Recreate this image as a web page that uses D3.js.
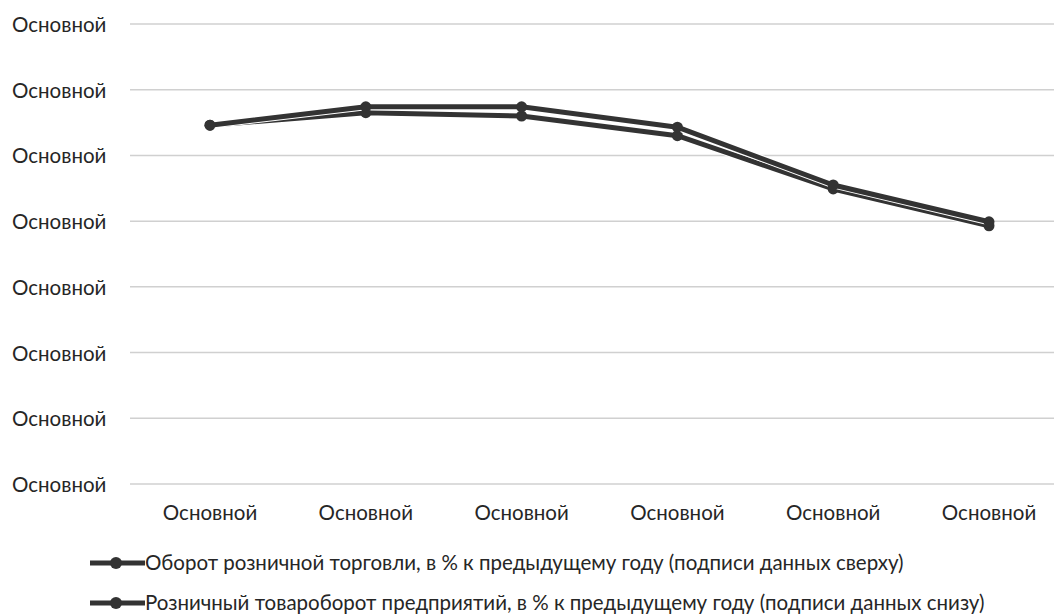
<!DOCTYPE html>
<html>
<head>
<meta charset="utf-8">
<script src="https://cdn.jsdelivr.net/npm/d3@7"></script>
<style>
  body { margin: 0; background: #fff; }
  svg { display: block; font-family: Lato, sans-serif; }
</style>
</head>
<body>
<svg id="chart" width="1054" height="616"></svg>
<script>
var width = 1054,
    height = 616,
    fontSize = 20.5;

// categories and values (axis units are gridline steps)
var categories = ["c1", "c2", "c3", "c4", "c5", "c6"];
var xLabels = ["Основной", "Основной", "Основной", "Основной", "Основной", "Основной"];
var yTicks = [0, 1, 2, 3, 4, 5, 6, 7];
var yLabels = ["Основной", "Основной", "Основной", "Основной", "Основной", "Основной", "Основной", "Основной"];
var series1 = [5.46, 5.74, 5.74, 5.43, 4.55, 3.99];
var series2 = [5.46, 5.65, 5.60, 5.30, 4.49, 3.93];
var seriesNames = [
  "Оборот розничной торговли, в % к предыдущему году (подписи данных сверху)",
  "Розничный товароборот предприятий, в % к предыдущему году (подписи данных снизу)"
];

var svg = d3.select("#chart");

var x = d3.scalePoint()
    .domain(categories)
    .range([210, 989]);

var y = d3.scaleLinear()
    .domain([0, 7])
    .range([484, 24]);

// gridlines
svg.append("g")
  .selectAll("line")
  .data(yTicks)
  .enter()
  .append("line")
  .attr("x1", 130)
  .attr("x2", width)
  .attr("y1", function(d) { return y(d); })
  .attr("y2", function(d) { return y(d); })
  .attr("stroke", "#d0d0d0")
  .attr("stroke-width", 1.5);

// y labels
svg.append("g")
  .selectAll("text")
  .data(yTicks)
  .enter()
  .append("text")
  .attr("x", 12)
  .attr("y", function(d) { return y(d) + 8; })
  .attr("font-size", fontSize)
  .attr("fill", "#262626")
  .text(function(d, i) { return yLabels[i]; });

// x labels
svg.append("g")
  .selectAll("text")
  .data(categories)
  .enter()
  .append("text")
  .attr("x", function(d) { return x(d); })
  .attr("y", 520)
  .attr("text-anchor", "middle")
  .attr("font-size", fontSize)
  .attr("fill", "#262626")
  .text(function(d, i) { return xLabels[i]; });

var line = d3.line()
    .x(function(d, i) { return x(categories[i]); })
    .y(function(d) { return y(d); });

[series2, series1].forEach(function(s) {
  var g = svg.append("g");
  g.append("path")
    .datum(s)
    .attr("d", line)
    .attr("fill", "none")
    .attr("stroke", "#fff")
    .attr("stroke-width", 7);
  g.append("path")
    .datum(s)
    .attr("d", line)
    .attr("fill", "none")
    .attr("stroke", "#333")
    .attr("stroke-width", 5)
    .attr("stroke-linejoin", "round");
  g.selectAll("circle")
    .data(s)
    .enter()
    .append("circle")
    .attr("cx", function(d, i) { return x(categories[i]); })
    .attr("cy", function(d) { return y(d); })
    .attr("r", 5.5)
    .attr("fill", "#333");
});

// legend
var legend = svg.append("g")
  .selectAll("g")
  .data(seriesNames)
  .enter()
  .append("g")
  .attr("transform", function(d, i) { return "translate(0," + (563 + i * 40) + ")"; });

legend.append("line")
  .attr("x1", 90)
  .attr("x2", 145)
  .attr("stroke", "#333")
  .attr("stroke-width", 5);

legend.append("circle")
  .attr("cx", 116)
  .attr("r", 6)
  .attr("fill", "#333");

legend.append("text")
  .attr("x", 145)
  .attr("y", 7)
  .attr("font-size", fontSize)
  .attr("fill", "#262626")
  .text(function(d) { return d; });
</script>
</body>
</html>
